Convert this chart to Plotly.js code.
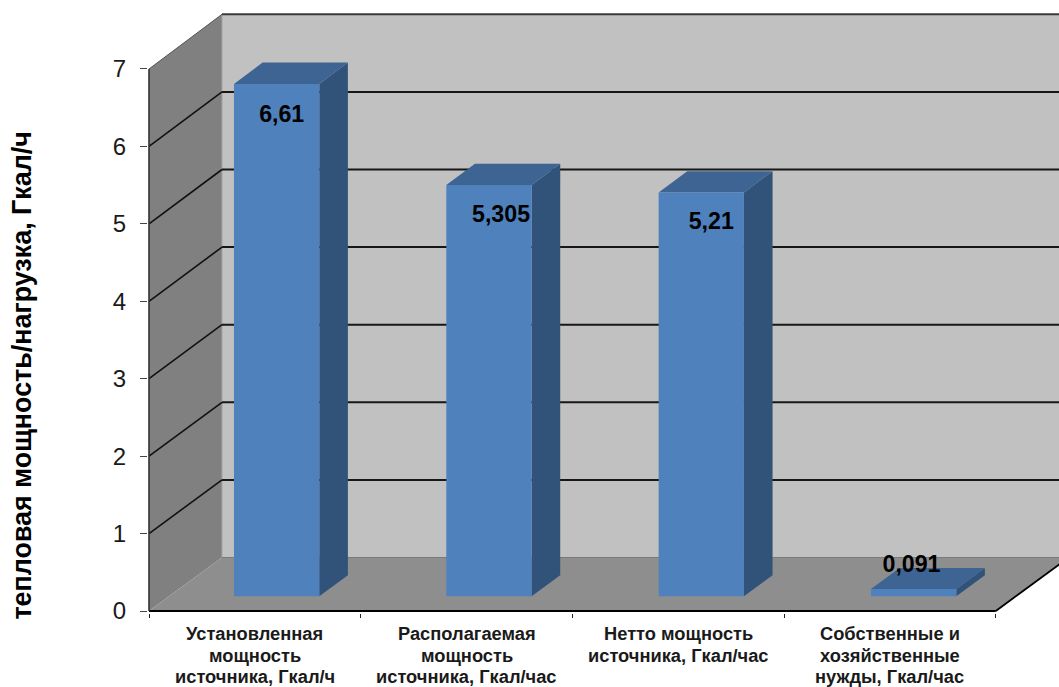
<!DOCTYPE html>
<html>
<head>
<meta charset="utf-8">
<script src="https://cdn.plot.ly/plotly-3.0.1.min.js"></script>
<style>html,body{margin:0;padding:0;background:#fff}#chart{width:1059px;height:687px}</style>
</head>
<body>
<div id="chart"></div>
<script>
// Source figures
const categories = [
  ['Установленная', 'мощность', 'источника, Гкал/ч'],
  ['Располагаемая', 'мощность', 'источника, Гкал/час'],
  ['Нетто мощность', 'источника, Гкал/час'],
  ['Собственные и', 'хозяйственные', 'нужды, Гкал/час']
];
const values = [6.61, 5.305, 5.21, 0.091];
const yTicks = [0, 1, 2, 3, 4, 5, 6, 7];
const yAxisTitle = 'тепловая мощность/нагрузка, Гкал/ч';

// Oblique projection: a point at depth d (0 = front, 1 = back wall) is shifted
// right and up in data units, so every face stays on the Plotly axes.
const W = 1059, H = 687, AXIS_X = 149, AXIS_Y = 611, PAD_L = 1, PAD_B = 2;
const UNIT_X = 211.7, UNIT_Y = 77.43;
const DEPTH_X = 73 / UNIT_X;
const px = (x, d) => x + d * DEPTH_X;
// The rise grows slightly with height, which gives the box its mild perspective
const py = (y, d) => y + d * (53.5 + y * 0.17) / UNIT_Y;
const xMax = (W - AXIS_X) / UNIT_X;
const yMax = AXIS_Y / UNIT_Y;
const nCat = categories.length, yTop = yTicks[yTicks.length - 1];

const poly = (pts, color) => ({
  x: pts.map(p => px(p[0], p[2])), y: pts.map(p => py(p[1], p[2])),
  mode: 'lines', fill: 'toself', fillcolor: color,
  line: {width: 0, color: color}, hoverinfo: 'skip', showlegend: false
});
const path = (pts, color, width) => ({
  x: pts.map(p => px(p[0], p[2])), y: pts.map(p => py(p[1], p[2])),
  mode: 'lines', line: {width: width, color: color},
  hoverinfo: 'skip', showlegend: false
});

const traces = [];
// Walls and floor
traces.push(poly([[0,0,1],[xMax,0,1],[xMax,yTop,1],[0,yTop,1]], '#c1c1c1'));
traces.push(poly([[0,0,0],[0,yTop,0],[0,yTop,1],[0,0,1]], '#808080'));
traces.push(poly([[0,0,0],[nCat,0,0],[nCat,0,1],[nCat + xMax,0,1],[0,0,1]], '#8e8e8e'));
traces.push(path([[0,0,1],[0,yTop,1]], '#a4a4a4', 1));
traces.push(path([[0,0,1],[xMax,0,1]], '#7a7a7a', 1));

// Gridlines run along the side wall and across the back wall
yTicks.slice(1).forEach(v => {
  const topLine = v === yTop;
  traces.push(path([[0,v,0],[0,v,1]], topLine ? '#555555' : '#111111', topLine ? 1 : 1.6));
  traces.push(path([[0,v,1],[xMax,v,1]], topLine ? '#3a3a3a' : '#161616', 2));
});

// Bars; the small per-category drift keeps the depth view's spacing
const D0 = 0.278, D1 = 0.67, BAR = 0.403;
const barCentre = i => i + 0.507 + i * 0.003;
values.forEach((v, i) => {
  const a = barCentre(i) - BAR / 2, b = a + BAR;
  traces.push(poly([[b,0,D0],[b,0,D1],[b,v,D1],[b,v,D0]], '#315379'));
  traces.push(poly([[a,v,D0],[b,v,D0],[b,v,D1],[a,v,D1]], '#3d6493'));
  traces.push(poly([[a,0,D0],[b,0,D0],[b,v,D0],[a,v,D0]], '#4f81bd'));
});

// Front axis lines and the floor's right edge
traces.push(path([[0,0,0],[nCat,0,0]], '#000000', 2.2));
traces.push(path([[0,0,0],[0,yTop,0]], '#333333', 1.6));
traces.push(path([[nCat,0,0],[nCat,0,1]], '#000000', 1.8));

// Value labels, nudged off the bars' front-face centres
const labelOffX = [0.024, 0.057, 0.047, -0.01];
const labelOffY = [-0.42, -0.40, -0.40, 0.30];
traces.push({
  x: values.map((v, i) => px(barCentre(i) + labelOffX[i], D0)),
  y: values.map((v, i) => py(v + labelOffY[i], D0)),
  text: values.map(v => String(v).replace('.', ',')),
  mode: 'text', textposition: 'middle center',
  textfont: {family: 'Liberation Sans, Arial, sans-serif', size: 23.2, color: '#000000', weight: 'bold'},
  hoverinfo: 'skip', showlegend: false, cliponaxis: false
});

// Category captions, one annotation per line for their tight leading
const captionFont = {family: 'Liberation Sans, Arial, sans-serif', size: 18.3, color: '#1a1a1a', weight: 'bold'};
const annotations = [];
categories.forEach((lines, i) => lines.forEach((text, k) => annotations.push({
  text: text, x: i + 0.5, y: 0, xref: 'x', yref: 'y',
  xanchor: 'center', yanchor: 'middle', yshift: -(22.5 + 21.5 * k),
  showarrow: false, font: captionFont
})));
// Value-axis caption, set beside the tick labels
annotations.push({
  text: yAxisTitle, textangle: -90, x: 0, y: 3.04, xref: 'x', yref: 'y',
  xanchor: 'center', yanchor: 'middle', xshift: 22 - AXIS_X,
  showarrow: false,
  font: {family: 'Liberation Sans, Arial, sans-serif', size: 26.9, color: '#000000', weight: 'bold'}
});

const layout = {
  width: W, height: H,
  margin: {l: AXIS_X - PAD_L, r: 0, t: 0, b: H - AXIS_Y - PAD_B, pad: 0},
  paper_bgcolor: '#ffffff', plot_bgcolor: '#ffffff',
  showlegend: false, hovermode: false, annotations: annotations,
  xaxis: {
    range: [-PAD_L / UNIT_X, xMax], showgrid: false, zeroline: false, showline: false,
    tickmode: 'array', tickvals: [0, 1, 2, 3, 4], ticktext: ['', '', '', '', ''],
    ticks: 'outside', ticklen: 4, tickwidth: 1, tickcolor: '#222222'
  },
  yaxis: {
    range: [-PAD_B / UNIT_Y, yMax], showgrid: false, zeroline: false, showline: false,
    tickmode: 'array', tickvals: yTicks,
    ticks: 'outside', ticklen: 7, tickwidth: 1, tickcolor: '#444444',
    ticklabelstandoff: 9,
    tickfont: {family: 'Liberation Sans, Arial, sans-serif', size: 24, color: '#1a1a1a'}
  }
};

Plotly.newPlot('chart', traces, layout, {displayModeBar: false, staticPlot: true});
</script>
</body>
</html>
